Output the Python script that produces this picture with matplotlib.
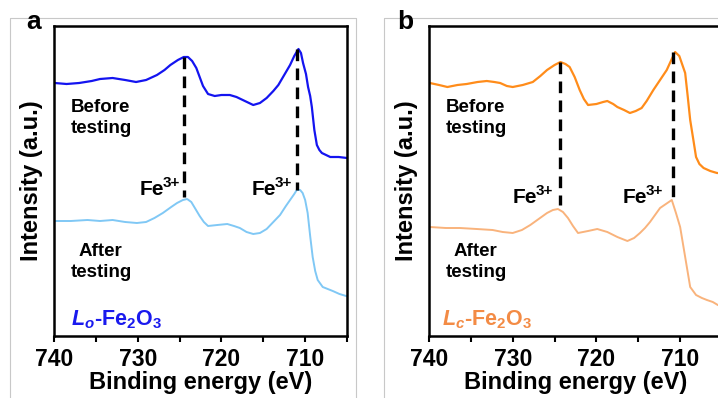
import numpy as np
import matplotlib
matplotlib.use("Agg")
import matplotlib.pyplot as plt
from matplotlib.lines import Line2D

plt.rcParams['font.family'] = 'Liberation Sans'
plt.rcParams['font.weight'] = 'bold'
plt.rcParams['axes.labelweight'] = 'bold'
plt.rcParams['mathtext.fontset'] = 'custom'
plt.rcParams['mathtext.rm'] = 'Liberation Sans:bold'
plt.rcParams['mathtext.bf'] = 'Liberation Sans:bold'
plt.rcParams['mathtext.it'] = 'Liberation Sans:bold:italic'
plt.rcParams['mathtext.bfit'] = 'Liberation Sans:bold:italic'

# panel a, Lo-Fe2O3
a_before_e = [739.9, 738.5, 737.0, 735.5, 734.5, 733.0, 731.5, 730.2, 729.0, 727.7,
              726.8, 726.1, 725.2, 724.5, 724.0, 723.5, 723.0, 722.6, 722.2, 721.6,
              720.8, 720.0, 719.0, 718.2, 717.2, 716.2, 715.4, 714.6, 713.8, 713.2,
              712.5, 711.8, 711.3, 710.8, 710.5, 710.25, 709.9, 709.65, 709.4, 709.2,
              708.9, 708.6, 708.3, 708.0, 707.0, 706.0, 705.0]
a_before_i = [253, 252, 253, 255, 257, 258, 256, 254, 256, 261,
              266, 271, 276, 279, 279, 275, 268, 259, 250, 242,
              240, 241, 241, 239, 235, 231, 233, 238, 245, 251,
              261, 271, 280, 287, 283, 273, 262, 249, 240, 229,
              206, 191, 186, 183, 179, 179, 178]
a_after_e = [739.9, 738.0, 736.0, 734.5, 733.0, 731.5, 730.1, 729.0, 728.0, 727.0,
             726.0, 725.3, 724.6, 724.1, 723.6, 723.1, 722.6, 722.1, 721.6, 720.5,
             719.3, 718.5, 717.8, 717.0, 716.2, 715.4, 714.6, 713.8, 713.0, 712.3,
             711.8, 711.3, 711.0, 710.6, 710.3, 710.0, 709.7, 709.4, 709.1, 708.8,
             708.5, 707.9, 707.3, 706.7, 705.9, 705.1]
a_after_i = [115, 115, 116, 115, 116, 114, 113, 114, 118, 123,
             129, 133, 136, 137, 134, 127, 120, 114, 110, 111,
             112, 110, 108, 104, 102, 103, 107, 114, 121, 130,
             136, 142, 146, 146, 143, 136, 123, 100, 79, 65,
             56, 49, 47, 45, 42, 40]

# panel b, Lc-Fe2O3
b_before_e = [739.9, 738.8, 737.8, 736.6, 735.5, 734.2, 733.1, 732.2, 731.5, 730.7,
              730.0, 728.8, 727.6, 726.7, 725.9, 725.0, 724.3, 723.7, 723.2, 722.6,
              722.0, 721.5, 721.0, 720.0, 719.2, 718.7, 718.0, 717.5, 716.7, 716.0,
              715.3, 714.6, 714.0, 713.2, 712.4, 711.6, 711.0, 710.6, 710.1, 709.4,
              709.1, 708.8, 708.4, 708.1, 707.7, 707.2, 706.4, 705.6, 705.0]
b_before_i = [253, 251, 249, 251, 252, 254, 255, 254, 253, 250,
              249, 251, 254, 260, 266, 271, 274, 272, 269, 259,
              246, 237, 231, 232, 234, 235, 232, 229, 226, 223,
              225, 228, 235, 246, 256, 266, 277, 284, 280, 263,
              240, 216, 195, 179, 172, 168, 165, 163, 163]
b_after_e = [739.9, 738.0, 736.3, 734.3, 732.4, 731.2, 730.0, 728.9, 727.9, 726.9,
             725.9, 725.2, 724.6, 724.0, 723.4, 722.8, 722.2, 721.0, 719.9, 718.7,
             717.5, 716.3, 715.5, 714.8, 714.2, 713.6, 713.0, 712.4, 711.7, 711.0,
             710.5, 710.0, 709.6, 709.2, 708.8, 708.1, 707.4, 706.8, 706.1, 705.5,
             705.0]
b_after_i = [109, 108, 108, 107, 106, 104, 103, 106, 111, 117,
             123, 126, 127, 124, 118, 110, 103, 105, 107, 104,
             99, 95, 98, 103, 108, 114, 121, 128, 132, 136,
             123, 109, 89, 69, 49, 41, 38, 36, 34, 31,
             30]

xticks = [740, 730, 720, 710]

fig = plt.figure(figsize=(7.18, 3.98), dpi=100)
W, H = 718, 398

def px(x0, y0, w, h):
    return [x0 / W, 1 - (y0 + h) / H, w / W, h / H]

# light grey panel frames
for xs, ys in [([10, 10, 356, 356], [398, 18, 18, 398]),
               ([384, 384, 718], [398, 18, 18])]:
    fig.add_artist(Line2D([x / W for x in xs], [1 - y / H for y in ys],
                          color='#c8c8c8', lw=0.8))

ax1 = fig.add_axes(px(54, 26, 293, 310))
ax2 = fig.add_axes(px(429, 26, 293, 310))

panels = [
    (ax1, a_before_e, a_before_i, a_after_e, a_after_i, '#1414f0', '#80c8f5',
     r'$\mathbfit{L}_{\mathbfit{o}}$-Fe$_{2}$O$_{3}$', '#1a1aee', 738.0,
     [(711.0, 287, 146), (724.5, 279, 139)],
     [(711.6, 141), (724.9, 141)], 'a', 34),
    (ax2, b_before_e, b_before_i, b_after_e, b_after_i, '#ff8c1a', '#f9b37c',
     r'$\mathbfit{L}_{\mathbfit{c}}$-Fe$_{2}$O$_{3}$', '#f38b45', 738.4,
     [(710.8, 284, 136), (724.4, 274, 131)],
     [(712.0, 133), (725.2, 133)], 'b', 405),
]

for ax, be, bi, ae, ai, cb, ca, name, cname, nx, dashes, fe_pos, letter, lx in panels:
    ax.plot(be, bi, color=cb, lw=1.6)
    ax.plot(ae, ai, color=ca, lw=1.4)
    for e, top, bot in dashes:
        ax.plot([e, e], [top, bot], color='black', lw=2.4, ls=(0, (3.5, 2.2)))
    for e, i in fe_pos:
        ax.annotate('3+', (e, i), xytext=(0, 5.5), textcoords='offset points',
                    ha='right', va='baseline', fontsize=11)
        ax.annotate('Fe', (e, i), xytext=(-11.5, 0), textcoords='offset points',
                    ha='right', va='baseline', fontsize=15)
    ax.text(734.4, 218, 'Before\ntesting', ha='center', va='center',
            fontsize=13.5, linespacing=1.25)
    ax.text(734.4, 74, 'After\ntesting', ha='center', va='center',
            fontsize=13.5, linespacing=1.25)
    ax.text(nx, 11, name, color=cname, fontsize=15.5, ha='left', va='baseline')
    ax.set_xlim(740, 705)
    ax.set_ylim(0, 310)
    ax.set_xticks(xticks)
    ax.set_xticks([735, 725, 715, 705], minor=True)
    ax.set_xticklabels([str(t) for t in xticks], fontweight='bold')
    ax.set_yticks([])
    ax.tick_params(axis='x', which='both', direction='out', length=4, width=1.5,
                   labelsize=16.5, pad=5)
    for s in ax.spines.values():
        s.set_linewidth(1.8)
    ax.set_xlabel('Binding energy (eV)', fontsize=17, labelpad=0, fontweight='bold')
    ax.set_ylabel('Intensity (a.u.)', fontsize=17, fontweight='bold')
    ax.yaxis.set_label_coords(-0.038, 0.5)
    fig.text(lx / W, 1 - 22 / H, letter, fontsize=19, ha='center', va='center')

fig.savefig('out.png', dpi=100)
